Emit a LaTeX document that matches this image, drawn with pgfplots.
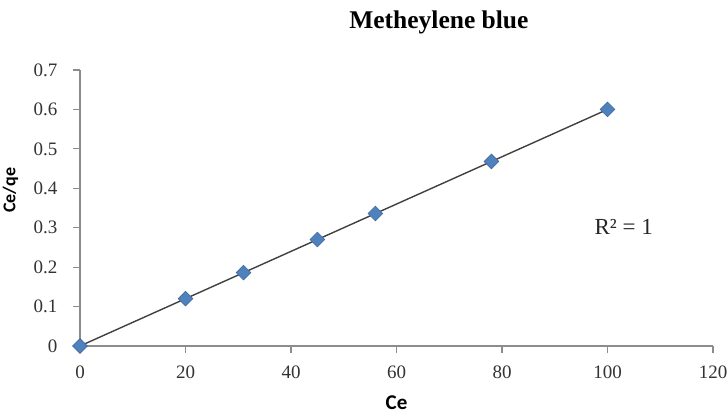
\documentclass[border=0pt]{standalone}
\usepackage{pgfplots}
\pgfplotsset{compat=1.18}
\usepackage{fontspec}
\setmainfont{Liberation Serif}
\newfontfamily\calibri{Carlito}

\definecolor{markerblue}{HTML}{4F81BD}
\definecolor{markeredge}{HTML}{3D6A9E}
\definecolor{trendgray}{HTML}{404040}
\definecolor{axisgray}{HTML}{8C8C8C}

\begin{document}
\begin{tikzpicture}[x=1pt,y=1pt]
\useasboundingbox (0,0) rectangle (728,415);
\clip (0,0) rectangle (728,415);
\begin{axis}[
  at={(80pt,69pt)}, anchor=south west,
  scale only axis, width=633pt, height=276pt,
  xmin=0, xmax=120, ymin=0, ymax=0.7,
  axis x line*=bottom, axis y line*=left,
  axis line style={axisgray, line width=1.1pt},
  xtick={0,20,40,60,80,100,120},
  ytick={0,0.1,0.2,0.3,0.4,0.5,0.6,0.7},
  yticklabels={0,0.1,0.2,0.3,0.4,0.5,0.6,0.7},
  tick align=outside, major tick length=7pt,
  tick style={axisgray, line width=1.1pt},
  /pgf/number format/assume math mode=true,
  ticklabel style={font=\fontsize{19}{19}\selectfont, text=black!80},
  xticklabel style={yshift=-9pt},
  yticklabel style={xshift=-12pt},
  xlabel={\calibri\bfseries Ce},
  xlabel style={at={(axis description cs:0.5,-0.207)}, anchor=center, font=\fontsize{21}{21}\selectfont},
  ylabel={\calibri\bfseries Ce/qe},
  ylabel style={at={(axis description cs:-0.110,0.565)}, anchor=center, rotate=0, font=\fontsize{18}{18}\selectfont},
  title={Metheylene blue},
  title style={at={(axis description cs:0.567,1.152)}, anchor=center, font=\fontsize{25.5}{25.5}\selectfont\bfseries},
  clip=false,
]
% measured points
\addplot[only marks, mark=square*, mark size=5.2pt,
  mark options={rotate=45, fill=markerblue, draw=markeredge, line width=0.6pt}]
  coordinates {(0,0) (20,0.12) (31,0.186) (45,0.27) (56,0.336) (78,0.468) (100,0.6)};
% linear trendline
\addplot[trendgray, line width=1.4pt, no marks]
  coordinates {(0,0) (100,0.6)};
\node[font=\fontsize{23}{23}\selectfont, text=black!85] at (axis description cs:0.859,0.431) {R² = 1};
\end{axis}
\end{tikzpicture}
\end{document}
